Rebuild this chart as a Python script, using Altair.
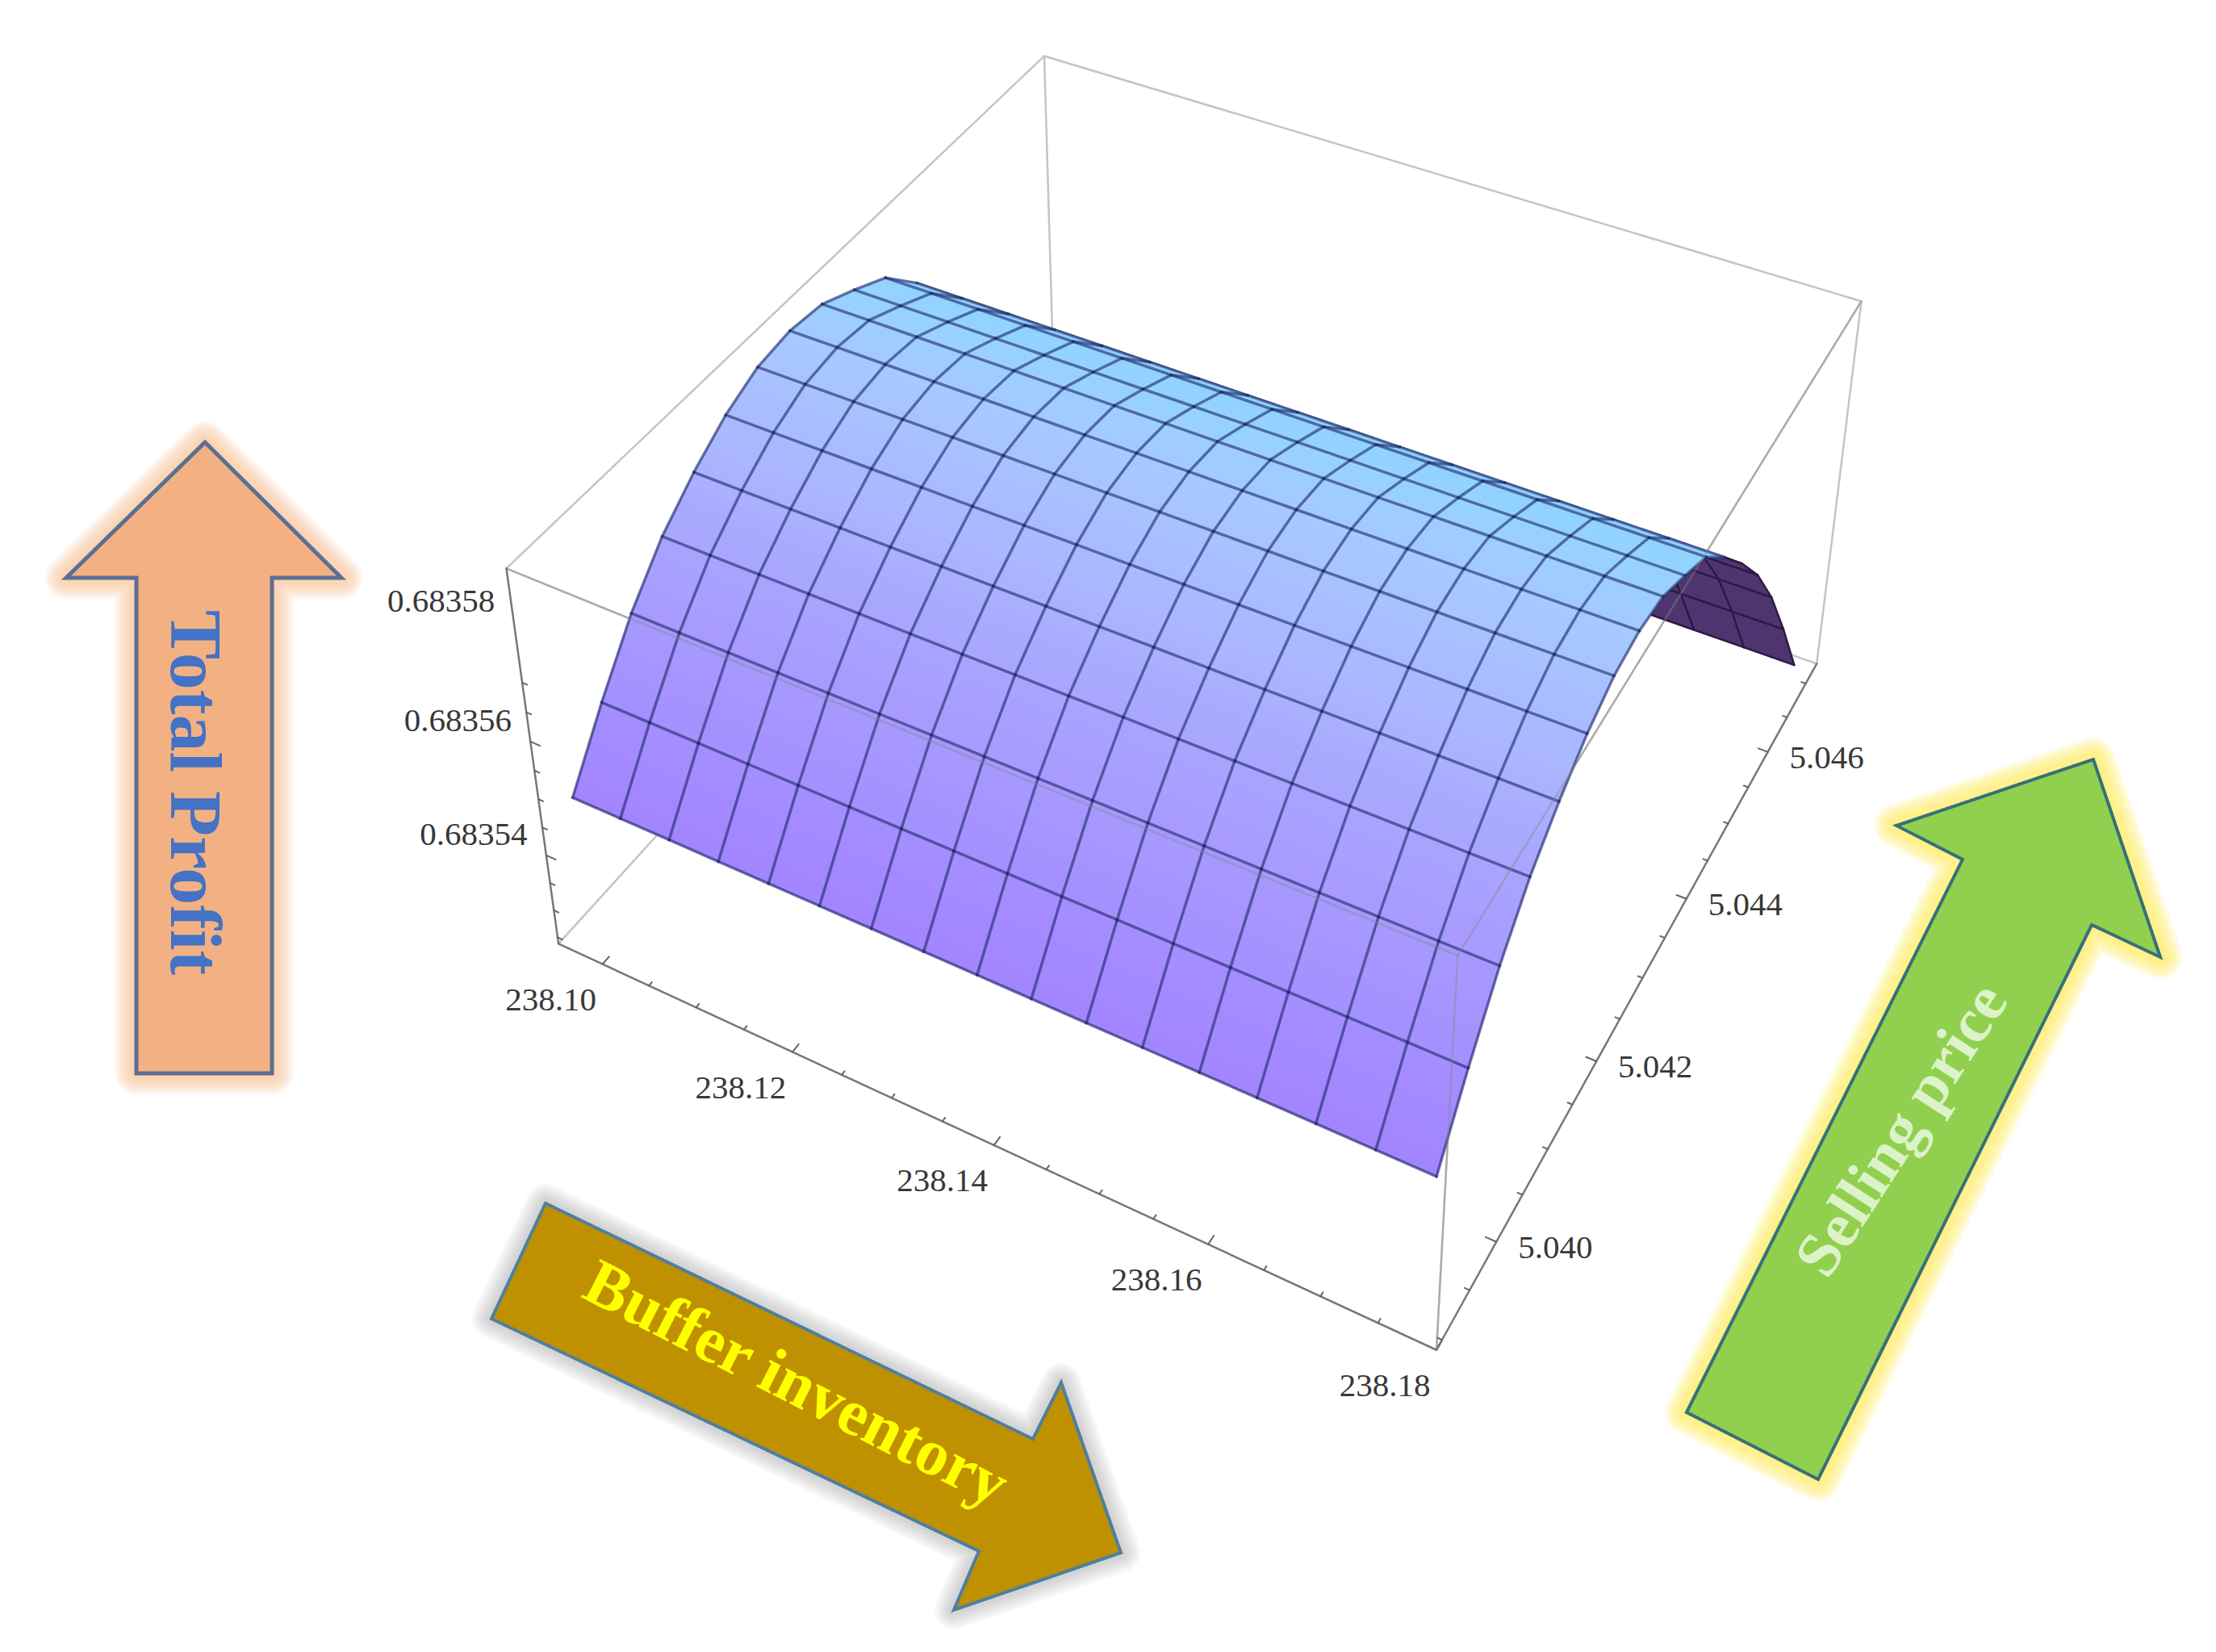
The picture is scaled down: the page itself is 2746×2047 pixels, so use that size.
import altair as alt
import numpy as np
import pandas as pd

# ---- values ----
INVENTORY = [238.0972, 238.10226, 238.10734, 238.11241, 238.11749, 238.12257, 238.12765, 238.13272, 238.1378,
             238.14288, 238.14795, 238.15303, 238.15811, 238.16318, 238.16826, 238.17334, 238.17841]
PRICE = [5.0391, 5.0396, 5.0401, 5.0406, 5.0411, 5.0416, 5.0421, 5.0426, 5.0431,
         5.0436, 5.0441, 5.0446, 5.0451, 5.0456, 5.0461, 5.0466, 5.0471]
PROFIT = [0.683549, 0.683559, 0.683568, 0.683575, 0.683580, 0.683584, 0.6835866, 0.6835874, 0.6835867,
          0.683584, 0.683581, 0.683575, 0.683568, 0.683560, 0.683550, 0.683538, 0.683525]
INV_RANGE = (238.0952, 238.180)
PRICE_RANGE = (5.0389, 5.0473)
PROFIT_RANGE = (0.6835238, 0.6835887)

INV_MAJOR = [238.10, 238.12, 238.14, 238.16, 238.18]
PRICE_MAJOR = [5.040, 5.042, 5.044, 5.046]
PROFIT_MAJOR = [0.68354, 0.68356, 0.68358]

# camera: picture position of each corner of the plot box (u, v, w)
BOX_UNIT = [(0,0,0),(1,0,0),(1,1,0),(0,1,0),(0,0,1),(1,0,1),(1,1,1),(0,1,1)]
BOX_PIX = [(691,1168),(1781,1671),(2253,822),(1305,495),(628,704),(1806,1188),(2304,372),(1296,68)]

ROW_COLORS = ["#a284ff", "#a89bff", "#aab5ff", "#a7c8ff", "#96d3ff", "#8ed2ff"]
BACK_COLOR = "#4f3570"

ARROW_PROFIT = [(254,548),(423,716),(337,716),(337,1330),(169,1330),(169,716),(82,716)]
ARROW_BUFFER = [(676,1491),(1280,1783),(1315,1713),(1389,1924),(1182,1995),(1213,1922),(609,1634)]
ARROW_PRICE = [(2090,1750),(2432,1065),(2350,1023),(2594,941),(2677,1186),(2592,1146),(2253,1833)]

# ---- camera fit ----
rows = []
for (u, v, w), (x, y) in zip(BOX_UNIT, BOX_PIX):
    rows.append([u, v, w, 1, 0, 0, 0, 0, -x*u, -x*v, -x*w, -x])
    rows.append([0, 0, 0, 0, u, v, w, 1, -y*u, -y*v, -y*w, -y])
_, _, vt = np.linalg.svd(np.array(rows, float))
CAM = vt[-1].reshape(3, 4)

def project(u, v, w):
    p = CAM @ np.array([u, v, w, 1.0])
    return float(p[0]/p[2]), float(p[1]/p[2])

def unit(r, val):
    return (val - r[0]) / (r[1] - r[0])

def surf(j, i):
    return (unit(INV_RANGE, INVENTORY[j]), unit(PRICE_RANGE, PRICE[i]), unit(PROFIT_RANGE, PROFIT[i]))

def hex2rgb(h):
    return np.array([int(h[k:k+2], 16) for k in (1, 3, 5)], float)

def ramp(t):
    t = min(max(t, 0), 1) * (len(ROW_COLORS) - 1)
    a = min(int(t), len(ROW_COLORS) - 2)
    c = hex2rgb(ROW_COLORS[a]) * (1 - (t - a)) + hex2rgb(ROW_COLORS[a+1]) * (t - a)
    return "#%02x%02x%02x" % tuple(int(round(q)) for q in c)

def area(pts):
    return sum(pts[k][0]*pts[(k+1) % len(pts)][1] - pts[(k+1) % len(pts)][0]*pts[k][1] for k in range(len(pts)))

def feature(pts, fill):
    ring = [list(p) for p in pts] + [list(pts[0])]
    return {"type": "Feature", "properties": {"fill": fill}, "geometry": {"type": "Polygon", "coordinates": [ring]}}

def geo(features):
    return alt.InlineData(values={"type": "FeatureCollection", "features": features},
                          format=alt.DataFormat(property="features", type="json"))

PROJ = dict(type="identity", scale=1, translate=[-8, -8])
XS = alt.Scale(domain=[8, 2738], nice=False, zero=False)
YS = alt.Scale(domain=[8, 2039], reverse=True, nice=False, zero=False)

def segs(chart_rows, color, width, opacity=1.0):
    df = pd.DataFrame(chart_rows, columns=["x", "y", "x2", "y2"])
    return alt.Chart(df).mark_rule(color=color, strokeWidth=width, opacity=opacity, strokeCap="round").encode(
        x=alt.X("x:Q", scale=XS, axis=None), y=alt.Y("y:Q", scale=YS, axis=None), x2="x2:Q", y2="y2:Q")

def polygons(features, sw=1.0):
    return alt.Chart(geo(features)).mark_geoshape(strokeWidth=sw).encode(
        fill=alt.Fill("properties.fill:N", scale=None),
        stroke=alt.Stroke("properties.fill:N", scale=None)).project(**PROJ)

# ---- surface ----
front_sign = None
front_cells, back_cells = [], []
front_edges, back_edges = {}, {}
N = len(PRICE) - 1
M = len(INVENTORY) - 1
for i in range(N):
    for j in range(M):
        q = [project(*surf(j, i)), project(*surf(j+1, i)), project(*surf(j+1, i+1)), project(*surf(j, i+1))]
        s = area(q) > 0
        if front_sign is None:
            front_sign = s
        edges = [((j, i), (j+1, i)), ((j+1, i), (j+1, i+1)), ((j, i+1), (j+1, i+1)), ((j, i), (j, i+1))]
        if s == front_sign:
            front_cells.append((i, j, q))
            for e in edges:
                front_edges[e] = True
        else:
            back_cells.append(feature(q, BACK_COLOR))
            for e in edges:
                back_edges[e] = True
STRIPS = 5
last_front = max(c[0] for c in front_cells) + 1
front_feats = []
for i, j, q in front_cells:
    for s in range(STRIPS):
        a, b = s/STRIPS, (s+1)/STRIPS
        lerp = lambda p0, p1, t: (p0[0]+(p1[0]-p0[0])*t, p0[1]+(p1[1]-p0[1])*t)
        pts = [lerp(q[0], q[3], a), lerp(q[1], q[2], a), lerp(q[1], q[2], b), lerp(q[0], q[3], b)]
        front_feats.append(feature(pts, ramp((i + (a+b)/2) / last_front)))

def edge_rows(edges):
    out = []
    for (a, b) in edges:
        p0 = project(*surf(*a))
        p1 = project(*surf(*b))
        out.append((p0[0], p0[1], p1[0], p1[1]))
    return out

back_only = [e for e in back_edges if e not in front_edges]

# ---- box ----
def corner(u, v, w):
    return project(u, v, w)

def edge(a, b):
    p0, p1 = corner(*a), corner(*b)
    return (p0[0], p0[1], p1[0], p1[1])

box_light = [edge((0,0,1),(0,1,1)), edge((0,1,1),(1,1,1)), edge((0,1,1),(0,1,0)), edge((0,0,0),(0,1,0)),
             edge((0,1,0),(1,1,0)), edge((1,1,1),(1,1,0)), edge((0,0,1),(1,0,1)), edge((1,0,1),(1,1,1)),
             edge((1,0,1),(1,0,0))]
box_over = [edge((0,0,1),(1,0,1)), edge((1,0,1),(1,1,1)), edge((1,0,1),(1,0,0))]
box_dark = [edge((0,0,0),(1,0,0)), edge((1,0,0),(1,1,0)), edge((0,0,0),(0,0,1))]

ticks = []
for k in range(0, 17):
    val = 238.10 + 0.005*k
    u = unit(INV_RANGE, val)
    L = 0.011 if k % 4 == 0 else 0.005
    ticks.append(edge((u,0,0),(u,L,0)))
for k in range(-2, 15):
    val = 5.040 + 0.0005*k
    v = unit(PRICE_RANGE, val)
    L = 0.011 if k % 4 == 0 else 0.005
    ticks.append(edge((1,v,0),(1-L,v,0)))
for k in range(-3, 7):
    val = 0.68354 + 0.000005*k
    w = unit(PROFIT_RANGE, val)
    L = 0.012 if k % 4 == 0 else 0.006
    ticks.append(edge((0,0,w),(L,0,w)))

def labels(items, dx, dy):
    df = pd.DataFrame([{"x": p[0], "y": p[1], "t": t} for p, t in items])
    return alt.Chart(df).mark_text(font="Liberation Serif", fontSize=41, color="#383838", dx=dx, dy=dy,
                                   align="center", baseline="middle").encode(
        x=alt.X("x:Q", scale=XS, axis=None), y=alt.Y("y:Q", scale=YS, axis=None), text="t:N")

inv_labels = labels([(project(unit(INV_RANGE, m), 0, 0), "%.2f" % m) for m in INV_MAJOR], -64, 45)
price_labels = labels([(project(1, unit(PRICE_RANGE, m), 0), "%.3f" % m) for m in PRICE_MAJOR], 73, 8)
profit_labels = labels([(project(0, 0, unit(PROFIT_RANGE, m)), "%.5f" % m) for m in PROFIT_MAJOR], -90, -25)

# ---- arrows ----
def arrow(pts, fill, stroke, sw, glow, glow_widths, glow_opacity):
    layers = []
    for w in glow_widths:
        layers.append(alt.Chart(geo([feature(pts, fill)])).mark_geoshape(
            fill=glow, stroke=glow, strokeWidth=w, opacity=glow_opacity, strokeJoin="round").project(**PROJ))
    layers.append(alt.Chart(geo([feature(pts, fill)])).mark_geoshape(
        fill=fill, stroke=stroke, strokeWidth=sw, strokeJoin="miter").project(**PROJ))
    return layers

def arrow_text(txt, xy, size, angle, color):
    df = pd.DataFrame([{"x": xy[0], "y": xy[1], "t": txt}])
    return alt.Chart(df).mark_text(font="Liberation Serif", fontWeight="bold", fontSize=size, angle=angle,
                                   color=color, align="center", baseline="middle").encode(
        x=alt.X("x:Q", scale=XS, axis=None), y=alt.Y("y:Q", scale=YS, axis=None), text="t:N")

layers = []
layers += arrow(ARROW_PROFIT, "#f3b183", "#5b6f92", 5, "#fcc9a0", [52, 46, 40, 34, 28, 22, 16, 10], 0.16)
layers += arrow(ARROW_BUFFER, "#bf9000", "#4e7f9f", 4, "#8a8a8a", [48, 42, 36, 30, 24, 18, 12], 0.055)
layers += arrow(ARROW_PRICE, "#91d04f", "#37707a", 4, "#ffee66", [54, 48, 42, 36, 30, 24, 18, 12], 0.16)
layers += [
    segs(box_light, "#c4c4c4", 2.5),
    segs(box_dark, "#777777", 2.5),
    segs(ticks, "#666666", 2),
    polygons(back_cells, 1),
    segs(edge_rows(back_only), "#2b1a45", 2.5),
    polygons(front_feats, 1),
    segs(edge_rows(list(front_edges)), "#1f2c6a", 3.5, 0.62),
    segs(box_over, "#888888", 2.5, 0.42),
    inv_labels, price_labels, profit_labels,
    arrow_text("Total Profit", (240, 982), 92, 90, "#4472c4"),
    arrow_text("Buffer inventory", (986, 1716), 81, 27, "#ffff00"),
    arrow_text("Selling price", (2358, 1401), 78, 303, "#dcf2c8"),
]

chart = alt.layer(*layers).properties(width=2730, height=2031, padding=0, background="white",
    autosize=alt.AutoSizeParams(type="none")).configure_view(strokeWidth=0)
chart.save("out.html", embed_options={"renderer": "svg", "actions": False})
